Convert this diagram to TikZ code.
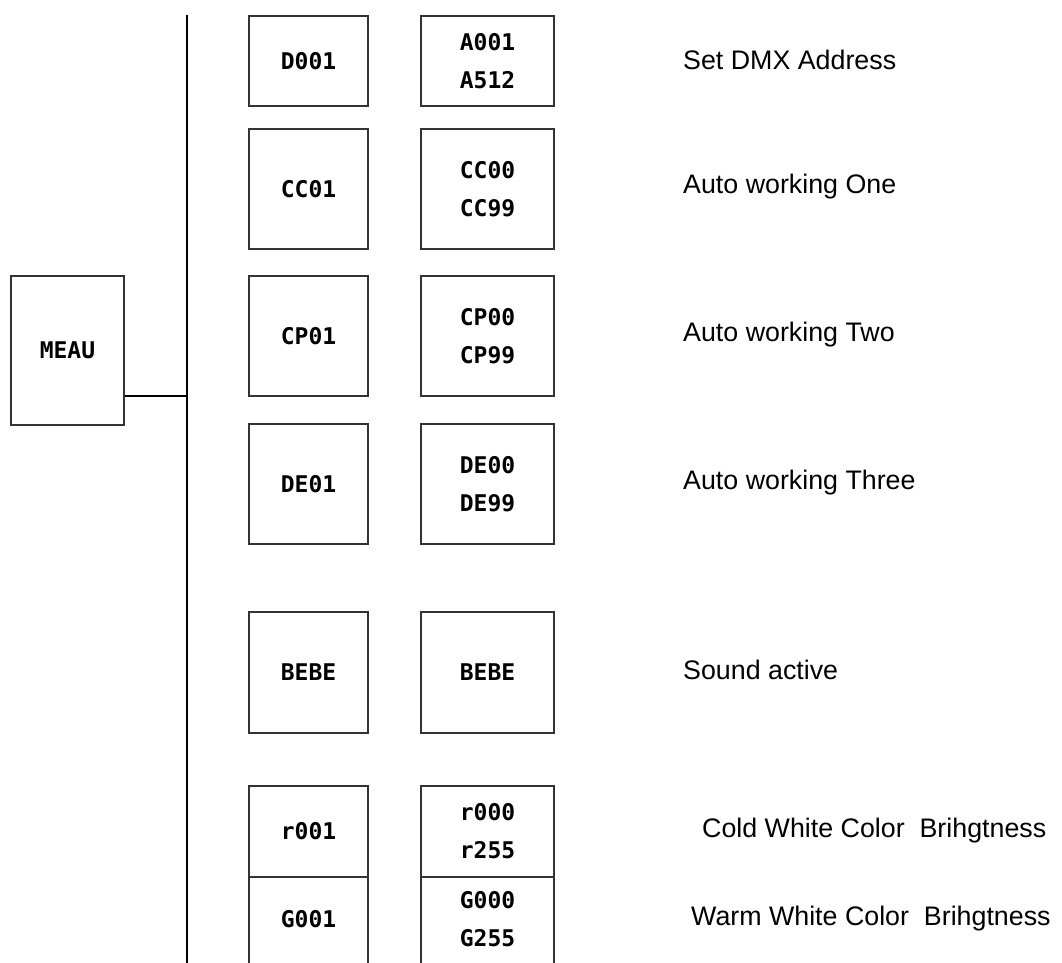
\documentclass[tikz,border=0pt]{standalone}
\usepackage{fontspec}
\setmainfont{Liberation Sans}
\newfontfamily\segfont{DejaVu Sans Mono}
\begin{document}
\begin{tikzpicture}[x=1pt,y=-1pt,
  seg/.style={font=\segfont\bfseries\fontsize{23}{38}\selectfont, align=center},
  box/.style={draw=black!80, line width=1.3pt, inner sep=0pt, seg},
  lbl/.style={anchor=west, inner sep=0pt, font=\fontsize{26.8}{30}\selectfont},
  wire/.style={draw=black, line width=1.3pt}]
\useasboundingbox (0,0) rectangle (1062,962);
\clip (0,0) rectangle (1062,962);
% menu box
\node[box, minimum width=113pt, minimum height=149pt] (menu) at (67.5,350.5) {MEAU};
% bus
\coordinate (bustop) at (187,15);
\coordinate (busbot) at (187,970);
\coordinate (join) at (187,396);
\draw[wire] (bustop) -- (busbot);
\draw[wire] ([yshift=-45.5pt]menu.east) -- (join);
% column 1 boxes (x 249-368)
\node[box, minimum width=119pt, minimum height=90pt]  (a1) at (308.5,61) {D001};
\node[box, minimum width=119pt, minimum height=120pt] (b1) at (308.5,189) {CC01};
\node[box, minimum width=119pt, minimum height=120pt] (c1) at (308.5,336) {CP01};
\node[box, minimum width=119pt, minimum height=120pt] (d1) at (308.5,484) {DE01};
\node[box, minimum width=119pt, minimum height=121pt] (e1) at (308.5,672.5) {BEBE};
\node[box, minimum width=119pt, minimum height=91pt]  (f1) at (308.5,831.5) {r001};
\node[box, minimum width=119pt, minimum height=91pt]  (g1) at (308.5,922.5) {};
\node[seg] (g1t) at (308.5,919) {G001};
% column 2 boxes (x 421-554)
\node[box, minimum width=133pt, minimum height=90pt]  (a2) at (487.5,61) {A001\\A512};
\node[box, minimum width=133pt, minimum height=120pt] (b2) at (487.5,189) {CC00\\CC99};
\node[box, minimum width=133pt, minimum height=120pt] (c2) at (487.5,336) {CP00\\CP99};
\node[box, minimum width=133pt, minimum height=120pt] (d2) at (487.5,484) {DE00\\DE99};
\node[box, minimum width=133pt, minimum height=121pt] (e2) at (487.5,672.5) {BEBE};
\node[box, minimum width=133pt, minimum height=91pt]  (f2) at (487.5,831.5) {r000\\r255};
\node[box, minimum width=133pt, minimum height=91pt]  (g2) at (487.5,922.5) {};
\node[seg] (g2t) at (487.5,919) {G000\\G255};
% labels
\node[lbl] (la) at (683,60) {Set DMX Address};
\node[lbl] (lb) at (683,187) {Auto working One};
\node[lbl] (lc) at (683,335) {Auto working Two};
\node[lbl] (ld) at (683,483) {Auto working Three};
\node[lbl] (le) at (683,670) {Sound active};
\node[lbl] (lf) at (702,831) {Cold White Color\ \ Brihgtness};
\node[lbl] (lg) at (691,919) {Warm White Color\ \ Brihgtness};
\end{tikzpicture}
\end{document}
